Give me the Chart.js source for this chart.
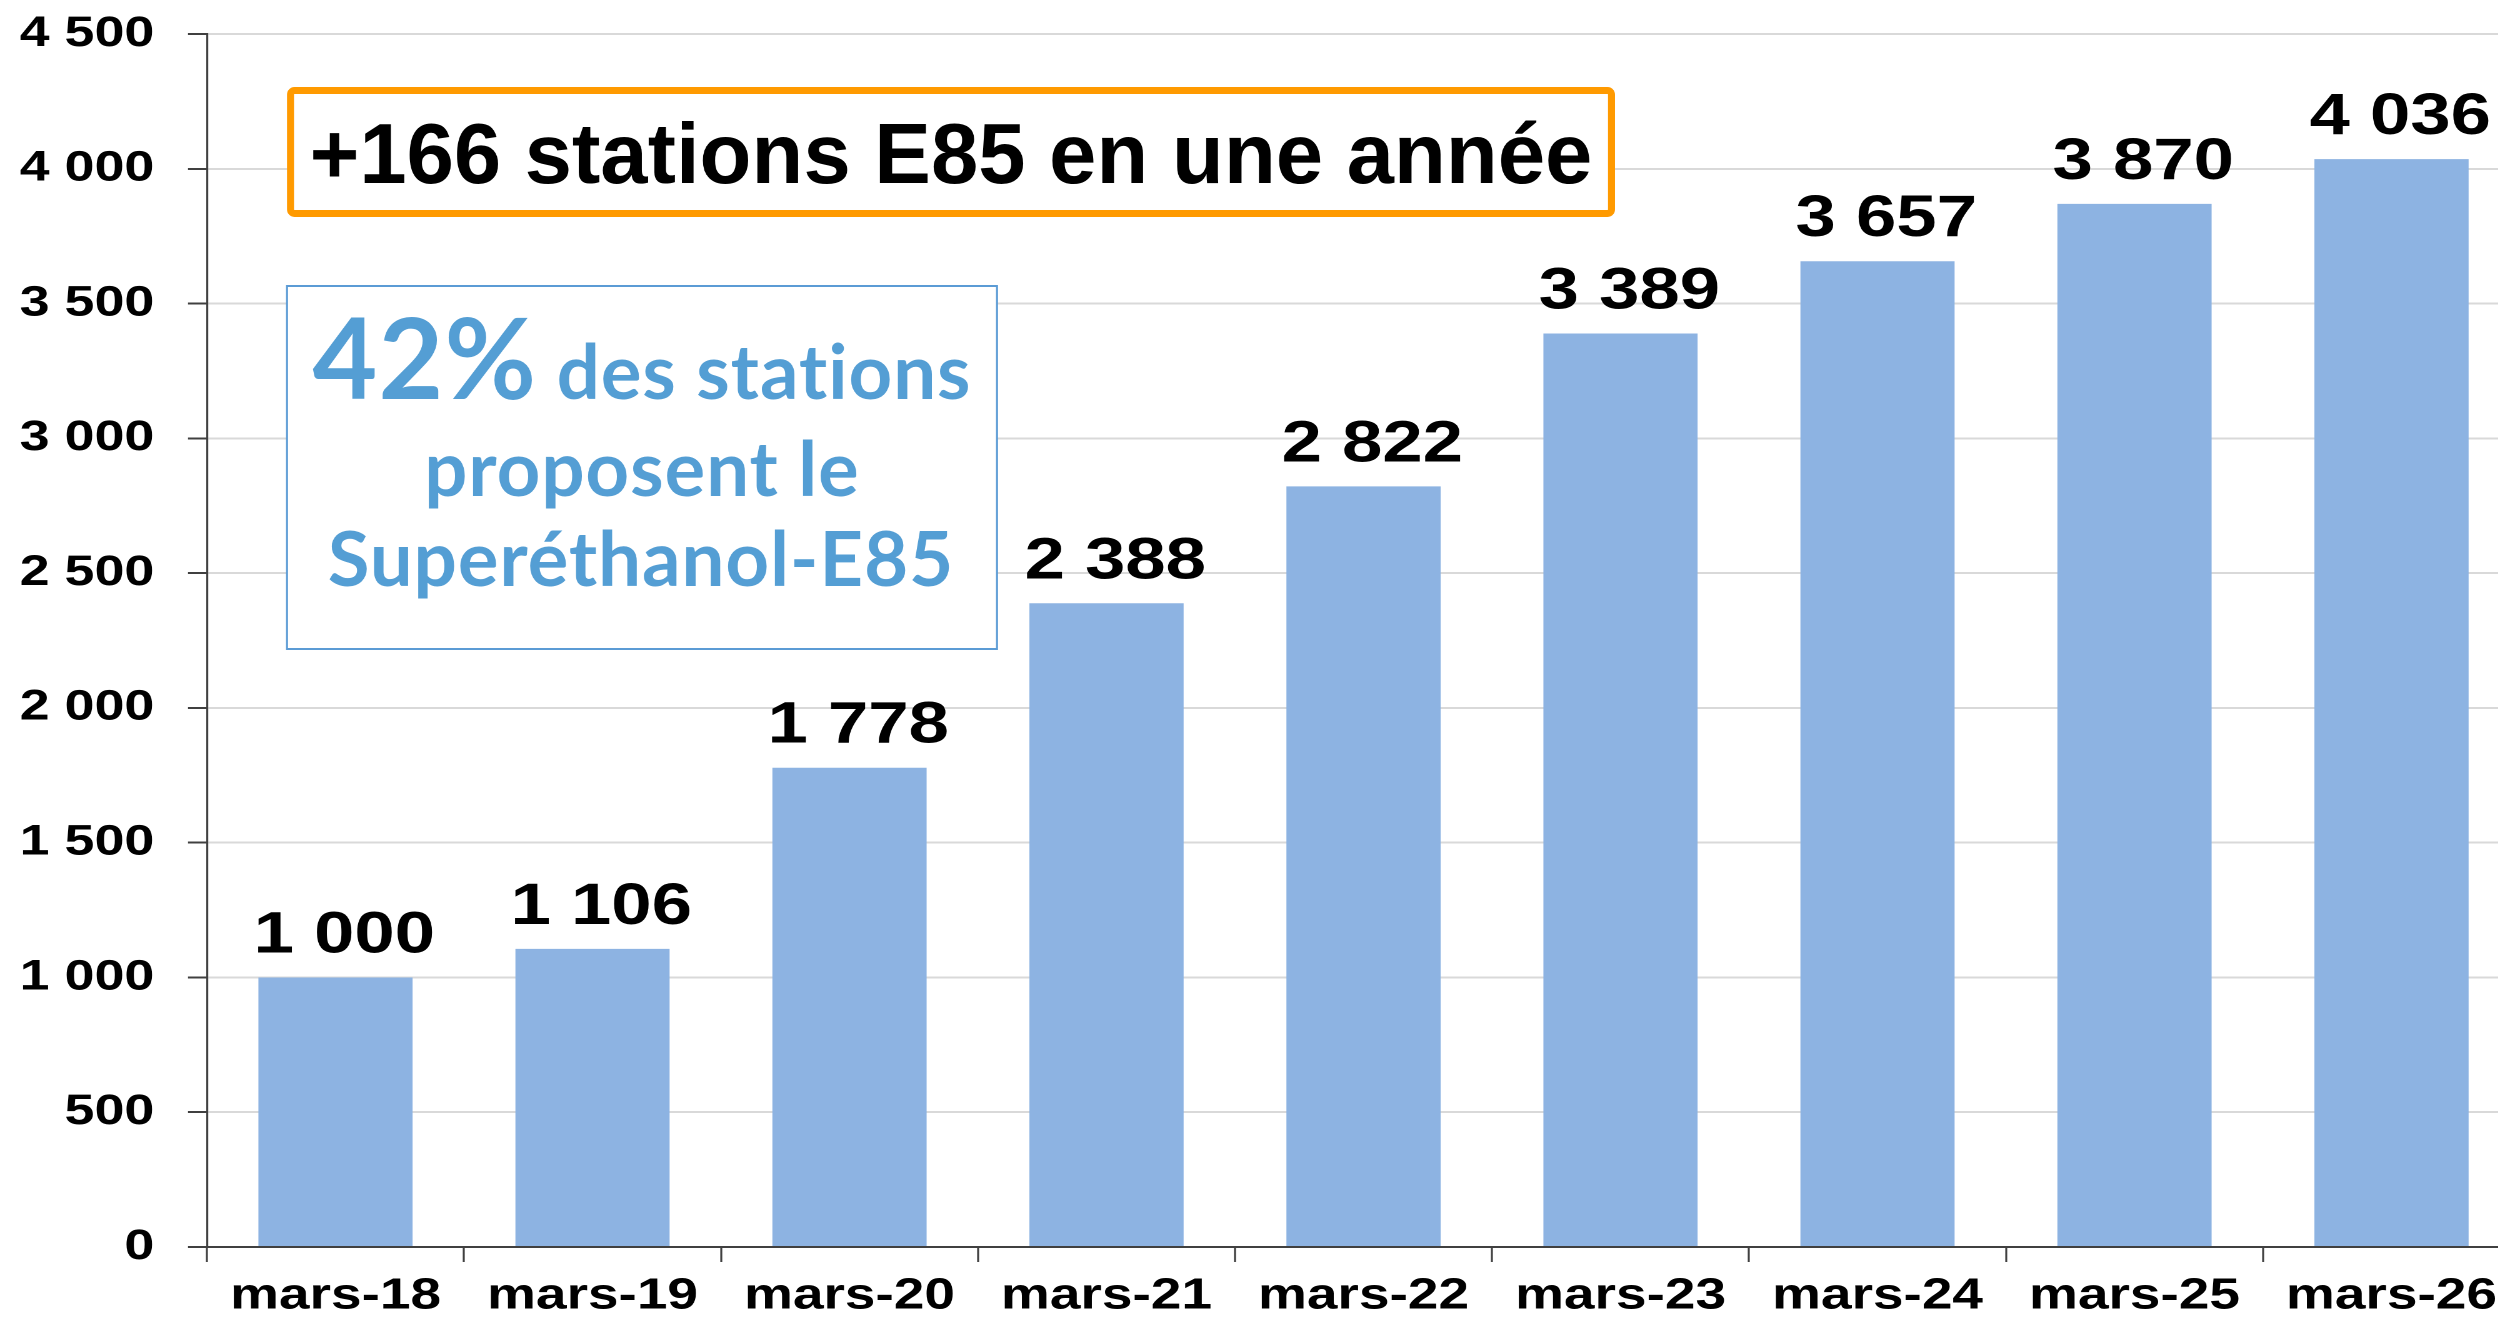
<!DOCTYPE html>
<html lang="fr">
<head>
<meta charset="utf-8">
<title>Stations E85</title>
<script src="https://cdn.jsdelivr.net/npm/chart.js@4"></script>
<style>
  html, body { margin: 0; padding: 0; background: #fff; overflow: hidden; }
  /* the source picture is stretched sideways, so the whole chart is too */
  #wrap { position: absolute; left: 0; top: 0; width: 2016px; height: 1318px; transform: scaleX(1.25); transform-origin: 0 0; }
</style>
</head>
<body>
<div id="wrap"><canvas id="bars"></canvas></div>
<script>
const months = ['mars-18', 'mars-19', 'mars-20', 'mars-21', 'mars-22', 'mars-23', 'mars-24', 'mars-25', 'mars-26'];
const stations = [1000, 1106, 1778, 2388, 2822, 3389, 3657, 3870, 4036];
const yMax = 4500;
const yStep = 500;
const headline = '+166 stations E85 en une année';
const sharePct = '42%';
const shareLines = [' des stations', 'proposent le', 'Superéthanol-E85'];

const STRETCH = 1.25;
const ARIAL = '"Liberation Sans", Arial, sans-serif';

// 4036 -> "4 036"
const spaced = v => String(v).replace(/\B(?=(\d{3})+(?!\d))/g, ' ');

const valueLabels = {
  id: 'valueLabels',
  afterDatasetsDraw(chart) {
    const ctx = chart.ctx;
    const meta = chart.getDatasetMeta(0);
    ctx.save();
    ctx.font = 'bold 58px ' + ARIAL;
    ctx.fillStyle = '#000';
    ctx.textAlign = 'center';
    ctx.textBaseline = 'alphabetic';
    meta.data.forEach((bar, i) => {
      // labels sit a little right of the bar centre in the original
      ctx.fillText(spaced(stations[i]), bar.x + 7, bar.y - 25);
    });
    ctx.restore();
  }
};

const callouts = {
  id: 'callouts',
  afterDraw(chart) {
    const ctx = chart.ctx;
    ctx.save();
    ctx.scale(1 / STRETCH, 1); // boxes are not stretched in the original

    // orange headline box
    ctx.fillStyle = '#fff';
    ctx.strokeStyle = '#ff9a00';
    ctx.lineWidth = 7;
    ctx.beginPath();
    ctx.roundRect(290.5, 90.5, 1321, 123, 4);
    ctx.fill();
    ctx.stroke();
    ctx.fillStyle = '#000';
    ctx.font = 'bold 85px ' + ARIAL;
    ctx.textAlign = 'center';
    ctx.textBaseline = 'alphabetic';
    ctx.fillText(headline, 951, 183);

    // blue share box
    ctx.fillStyle = '#fff';
    ctx.strokeStyle = '#5b9bd5';
    ctx.lineWidth = 2;
    ctx.beginPath();
    ctx.rect(287, 286, 710, 363);
    ctx.fill();
    ctx.stroke();

    ctx.fillStyle = '#549ed4';
    ctx.letterSpacing = '1px'; // also stops Lato's "ti" ligature
    ctx.font = 'bold 112px Lato';
    const w1 = ctx.measureText(sharePct).width;
    ctx.font = 'bold 76px Lato';
    const w2 = ctx.measureText(shareLines[0]).width;
    let x = 642 - (w1 + w2) / 2;
    ctx.textAlign = 'left';
    ctx.font = 'bold 112px Lato';
    ctx.fillText(sharePct, x, 399);
    ctx.font = 'bold 76px Lato';
    ctx.fillText(shareLines[0], x + w1, 399);
    ctx.textAlign = 'center';
    ctx.fillText(shareLines[1], 642, 496);
    ctx.fillText(shareLines[2], 641, 586);
    ctx.restore();
  }
};

new Chart(document.getElementById('bars'), {
  type: 'bar',
  data: {
    labels: months,
    datasets: [{
      data: stations,
      backgroundColor: '#8db3e2',
      borderWidth: 0,
      barPercentage: 0.6,
      categoryPercentage: 1
    }]
  },
  options: {
    responsive: true,
    maintainAspectRatio: false,
    animation: false,
    devicePixelRatio: 2,
    layout: { padding: { top: 34, left: 0, right: 0, bottom: 0 } },
    plugins: {
      legend: { display: false },
      tooltip: { enabled: false }
    },
    scales: {
      x: {
        grid: { offset: true, drawOnChartArea: false, drawTicks: true, tickLength: 15, tickColor: '#404040', tickWidth: 1.6 },
        border: { color: '#404040', width: 2 },
        ticks: {
          color: '#000',
          font: { family: ARIAL, size: 44, weight: 'bold' },
          padding: 8,
          maxRotation: 0,
          autoSkip: false
        },
        afterFit(scale) { scale.height = 71; }
      },
      y: {
        min: 0,
        max: yMax,
        grid: { color: '#d9d9d9', lineWidth: 2, tickLength: 15.2, tickColor: '#404040', tickWidth: 2 },
        border: { color: '#404040', width: 1.6 },
        ticks: {
          stepSize: yStep,
          color: '#000',
          font: { family: ARIAL, size: 43, weight: 'bold' },
          padding: 27,
          callback: v => spaced(v)
        },
        afterFit(scale) {
          scale.width = 165.6;
          // label padding would push the plot down; top padding handles it
          scale.paddingTop = 0;
          scale.paddingBottom = 0;
        }
      }
    }
  },
  plugins: [valueLabels, callouts]
});
</script>
</body>
</html>
